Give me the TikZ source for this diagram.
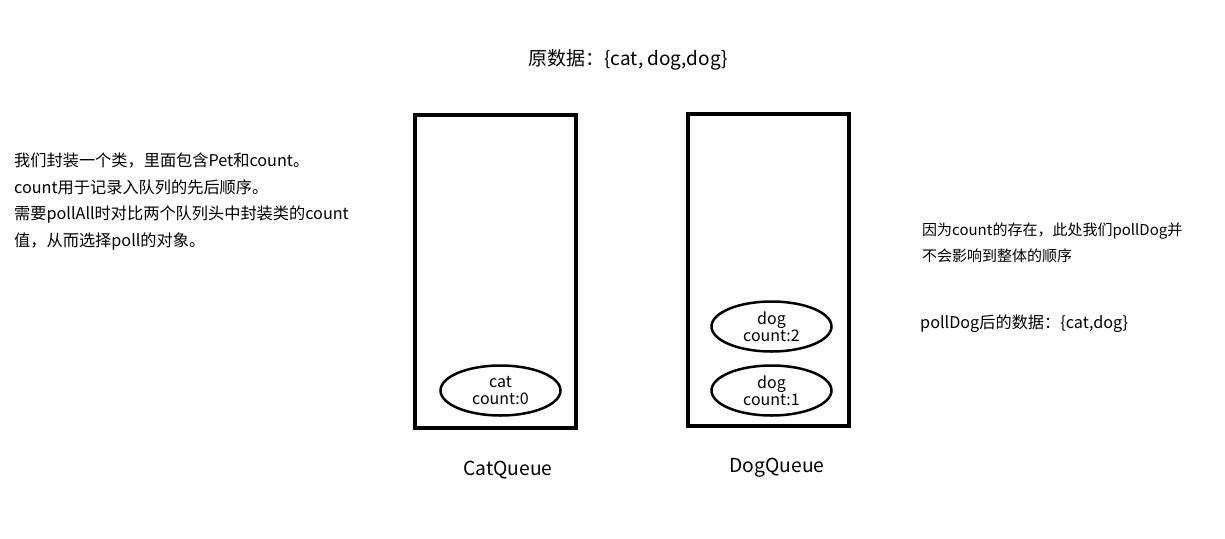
\documentclass[tikz,border=0pt]{standalone}
\usepackage{fontspec}
\setmainfont{Noto Sans CJK SC}
\usetikzlibrary{shapes.geometric}
\begin{document}
\begin{tikzpicture}[x=1pt,y=-1pt,
  queuebox/.style={draw=black,line width=4pt},
  item/.style={draw=black,line width=2.5pt,ellipse,minimum width=120pt,minimum height=50pt,inner sep=0pt,align=center,font=\fontsize{16}{16.5}\selectfont},
  txt/.style={anchor=west,inner sep=0pt,font=\fontsize{16.2}{26.7}\selectfont,align=left},
  label/.style={inner sep=0pt,font=\fontsize{19.3}{20}\selectfont}
]
\useasboundingbox (0,0) rectangle (1225,538);
\node[inner sep=0pt,font=\fontsize{19}{20}\selectfont] (title) at (628,60) {原数据：\{cat, dog,dog\}};
\draw[queuebox] (415,115) rectangle (576,428);
\draw[queuebox] (688,114) rectangle (849,426);
\node[item] (cat0) at (500.5,390.5) {cat\\count:0};
\node[item] (dog2) at (771.5,326.5) {dog\\count:2};
\node[item] (dog1) at (771.5,390.5) {dog\\count:1};
\node[label] (catlabel) at (508,470) {CatQueue};
\node[label] (doglabel) at (777,468) {DogQueue};
\node[txt] (left1) at (14,161) {我们封装一个类，里面包含Pet和count。};
\node[txt] (left2) at (14,187.5) {count用于记录入队列的先后顺序。};
\node[txt] (left3) at (14,214.5) {需要pollAll时对比两个队列头中封装类的count};
\node[txt] (left4) at (14,241.5) {值，从而选择poll的对象。};
\node[txt,font=\fontsize{15}{20}\selectfont] (right1) at (922,231) {因为count的存在，此处我们pollDog并};
\node[txt,font=\fontsize{15}{20}\selectfont] (right2) at (922,256) {不会影响到整体的顺序};
\node[txt,font=\fontsize{16.2}{20}\selectfont] (right3) at (920,324) {pollDog后的数据：\{cat,dog\}};
\end{tikzpicture}
\end{document}
